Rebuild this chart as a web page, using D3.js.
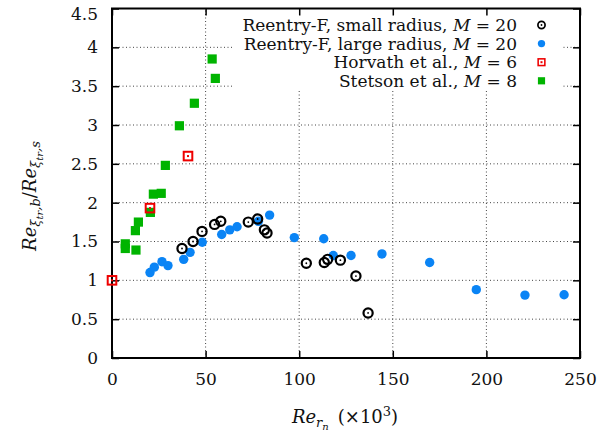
<!DOCTYPE html>
<html>
<head>
<meta charset="utf-8">
<script src="https://cdn.jsdelivr.net/npm/d3@7"></script>
<style>
  body { margin: 0; background: #fff; }
  svg text { font-family: "DejaVu Serif", "Liberation Serif", serif; fill: #111; }
</style>
</head>
<body>
<svg id="chart" width="597" height="437"></svg>
<script>
// Reentry-F small radius, M = 20
const smallX = [37.4, 43.3, 48.1, 54.8, 58.1, 72.8, 77.8, 81.4, 82.8, 103.8, 113.4, 115.2, 122.0, 130.3, 136.8];
const smallY = [1.41, 1.50, 1.63, 1.72, 1.76, 1.75, 1.79, 1.65, 1.61, 1.22, 1.23, 1.27, 1.26, 1.055, 0.58];
// Reentry-F large radius, M = 20
const largeX = [20.3, 22.6, 26.7, 29.9, 38.3, 41.7, 48.2, 58.6, 62.9, 66.8, 78.2, 84.2, 97.4, 113.1, 118.2, 127.7, 144.2, 169.7, 194.6, 220.6, 241.5];
const largeY = [1.10, 1.17, 1.24, 1.19, 1.27, 1.36, 1.49, 1.59, 1.65, 1.69, 1.76, 1.84, 1.55, 1.535, 1.32, 1.32, 1.34, 1.23, 0.88, 0.81, 0.815];
// Horvath et al., M = 6
const horvX = [0, 20.3, 40.6];
const horvY = [1.0, 1.93, 2.60];
// Stetson et al., M = 8
const stetX = [53.5, 55.2, 44.0, 36.0, 28.5, 22.1, 26.3, 20.5, 14.1, 12.5, 7.1, 7.1, 12.8];
const stetY = [3.85, 3.60, 3.28, 2.99, 2.48, 2.11, 2.12, 1.875, 1.75, 1.64, 1.47, 1.41, 1.39];

const xTicks = [0, 50, 100, 150, 200, 250];
const yTicks = [0, 0.5, 1, 1.5, 2, 2.5, 3, 3.5, 4, 4.5];
const legendLabels = ["Reentry-F, small radius, ", "Reentry-F, large radius, ", "Horvath et al., ", "Stetson et al., "];
const legendM = ["20", "20", "6", "8"];

const svg = d3.select("#chart");
const x = d3.scaleLinear().domain([0, 250]).range([112, 580]);
const y = d3.scaleLinear().domain([0, 4.5]).range([358, 8.5]);

// grid
const grid = svg.append("g").attr("stroke", "#444").attr("stroke-width", 1).attr("stroke-dasharray", "1,2.5");
grid.selectAll(".gx").data(xTicks.slice(1, -1)).join("line")
    .attr("x1", d => x(d)).attr("x2", d => x(d)).attr("y1", y(0)).attr("y2", y(4.5));
grid.selectAll(".gy").data(yTicks.slice(1, -1)).join("line")
    .attr("x1", x(0)).attr("x2", x(250)).attr("y1", d => y(d)).attr("y2", d => y(d));

// legend background hides grid
svg.append("rect").attr("x", 233).attr("y", 9.5).attr("width", 329).attr("height", 81).attr("fill", "#fff");

// axes (ticks inward, mirrored)
const tl = 7;
const axB = svg.append("g").attr("transform", `translate(0,${y(0)})`)
    .call(d3.axisBottom(x).tickValues(xTicks).tickSizeInner(-tl).tickSizeOuter(0).tickPadding(15).tickFormat(d3.format("d")));
const axT = svg.append("g").attr("transform", `translate(0,${y(4.5)})`)
    .call(d3.axisTop(x).tickValues(xTicks).tickSizeInner(-tl).tickSizeOuter(0).tickFormat(""));
const axL = svg.append("g").attr("transform", `translate(${x(0)},0)`)
    .call(d3.axisLeft(y).tickValues(yTicks).tickSizeInner(-tl).tickSizeOuter(0).tickPadding(14).tickFormat(d => d));
const axR = svg.append("g").attr("transform", `translate(${x(250)},0)`)
    .call(d3.axisRight(y).tickValues(yTicks).tickSizeInner(-tl).tickSizeOuter(0).tickFormat(""));
[axB, axT, axL, axR].forEach(a => {
  a.select(".domain").remove();
  a.selectAll("line").attr("stroke", "#000").attr("stroke-width", 1.5);
  a.selectAll("text").attr("font-size", 17).attr("font-family", "DejaVu Serif").attr("fill", "#111");
});
axB.selectAll("text").attr("dy", "0.71em");
// top label sits just inside the window
axL.selectAll("text").filter(d => d === 4.5).attr("dy", "0.62em");

svg.append("rect").attr("x", x(0)).attr("y", y(4.5)).attr("width", x(250) - x(0)).attr("height", y(0) - y(4.5))
    .attr("fill", "none").attr("stroke", "#000").attr("stroke-width", 2);

// markers
function drawSmall(g, cx, cy, s = 1) {
  g.append("circle").attr("cx", cx).attr("cy", cy).attr("r", 4.6 * s).attr("fill", "none").attr("stroke", "#000").attr("stroke-width", 2.2 * s);
  g.append("circle").attr("cx", cx).attr("cy", cy).attr("r", 0.9).attr("fill", "#000");
}
function drawLarge(g, cx, cy, s = 1) {
  g.append("circle").attr("cx", cx).attr("cy", cy).attr("r", 4.7 * s).attr("fill", "#0a84f5");
}
function drawHorv(g, cx, cy, s = 1) {
  const h = 4.3 * s;
  g.append("rect").attr("x", cx - h).attr("y", cy - h).attr("width", 2 * h).attr("height", 2 * h)
    .attr("fill", "none").attr("stroke", "#ee0000").attr("stroke-width", 2 * s);
  g.append("rect").attr("x", cx - 1).attr("y", cy - 1).attr("width", 2).attr("height", 2).attr("fill", "#ee0000");
}
function drawStet(g, cx, cy, s = 1) {
  const h = 4.6 * s;
  g.append("rect").attr("x", cx - h).attr("y", cy - h).attr("width", 2 * h).attr("height", 2 * h).attr("fill", "#00b400");
}

const pts = svg.append("g");
stetX.forEach((v, i) => drawStet(pts, x(v), y(stetY[i])));
horvX.forEach((v, i) => drawHorv(pts, x(v), y(horvY[i])));
largeX.forEach((v, i) => drawLarge(pts, x(v), y(largeY[i])));
smallX.forEach((v, i) => drawSmall(pts, x(v), y(smallY[i])));

// legend
const drawers = [drawSmall, drawLarge, drawHorv, drawStet];
const leg = svg.append("g");
legendLabels.forEach((lab, i) => {
  const ry = 25 + i * 18.6;
  const t = leg.append("text").attr("x", 517).attr("y", ry).attr("dy", "0.35em").attr("text-anchor", "end").attr("font-size", 17);
  t.append("tspan").text(lab);
  t.append("tspan").attr("font-style", "italic").text("M");
  t.append("tspan").text(" = " + legendM[i]);
  drawers[i](leg, 541.5, ry, 0.78);
});

// x title
const xt = svg.append("text").attr("x", 345).attr("y", 423).attr("text-anchor", "middle").attr("font-size", 18);
xt.append("tspan").attr("font-style", "italic").text("Re");
xt.append("tspan").attr("font-style", "italic").attr("font-size", 13).attr("dy", 4).text("r");
xt.append("tspan").attr("font-style", "italic").attr("font-size", 10).attr("dy", 3).text("n");
xt.append("tspan").attr("dy", -7).text("\u2002(×10");
xt.append("tspan").attr("font-size", 13).attr("dy", -7).text("3");
xt.append("tspan").attr("dy", 7).text(")");

// y title
const yt = svg.append("text").attr("transform", "translate(36,196) rotate(-90)").attr("text-anchor", "middle").attr("font-size", 18);
function reSub(t, last, lead) {
  t.append("tspan").attr("font-style", "italic").attr("dy", lead).text("Re");
  t.append("tspan").attr("font-style", "italic").attr("font-size", 13).attr("dy", 4).text("ξ");
  t.append("tspan").attr("font-style", "italic").attr("font-size", 10).attr("dy", 3).text("tr");
  t.append("tspan").attr("font-style", "italic").attr("font-size", 13).attr("dy", -3).text("," + last);
}
reSub(yt, "b", 0);
yt.append("tspan").attr("dy", -4).text("/");
reSub(yt, "s", 0);
</script>
</body>
</html>
